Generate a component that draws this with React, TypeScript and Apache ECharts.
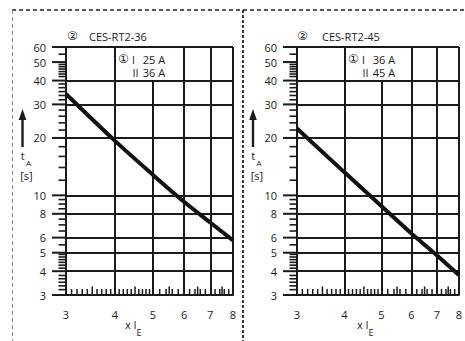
import React, { useEffect, useRef } from "react";
import * as echarts from "echarts";

// ---- data ----
const xTicks = [3, 4, 5, 6, 7, 8];
const yTicks = [3, 4, 5, 6, 8, 10, 20, 30, 40, 50, 60];
const xMinor = [3.1, 3.2, 3.3, 3.4, 3.6, 3.7, 3.8, 3.9, 4.1, 4.2, 4.3, 4.4, 4.6, 4.7, 4.8, 4.9, 5.2, 5.4, 5.6, 5.8, 6.2, 6.4, 6.6, 6.8, 7.2, 7.4, 7.6, 7.8];
const xHalf = [3.5, 4.5, 5.5, 6.5, 7.5];
const yMinor = [55, 42, 43.3, 44.6, 46, 47.3, 48.6, 31.7, 33.4, 35, 36.7, 38.4, 22, 24, 26, 28, 12, 14, 16, 18, 8.5, 9, 9.5, 6.5, 7, 7.5, 5.5, 4.15, 4.3, 4.45, 4.6, 4.75, 4.9, 3.2, 3.35, 3.5, 3.65, 3.8];
const hGrid = [4, 5, 6, 8, 10, 20, 30, 40, 60];
const vGridFull = [4, 6, 7, 8];
const vGridPartial = [5]; // stops at 40
const curveX = [3, 4, 5, 6, 7, 8];
const curveLeft = [34, 19.3, 12.8, 9.25, 7.2, 5.8];
const curveRight = [22.4, 13.2, 8.8, 6.3, 4.85, 3.82];
const titles = ["CES-RT2-36", "CES-RT2-45"];
const currentsI = ["25 A", "36 A"];
const currentsII = ["36 A", "45 A"];

const L = (v: number) => Math.log10(v);
const FONT = '"Open Sans", "DejaVu Sans", sans-serif';
const INK = "#1a1a1a";

function buildOption() {
  const panels = [
    { left: 66, width: 167 },
    { left: 297, width: 168 },
  ];
  const xAxes: any[] = [];
  const yAxes: any[] = [];
  const series: any[] = [];
  const curves = [curveLeft, curveRight];

  panels.forEach((_p, g) => {
    xAxes.push({
      type: "value",
      gridIndex: g,
      position: "bottom",
      min: L(3),
      max: L(8),
      splitLine: { show: false },
      axisLine: { show: true, lineStyle: { color: INK, width: 2 } },
      axisTick: { show: false },
      axisLabel: {
        customValues: xTicks.map(L),
        formatter: (v: number) => String(Math.round(Math.pow(10, v))),
        margin: 14,
        color: INK,
        fontSize: 11,
        fontFamily: FONT,
      },
    });
    yAxes.push({
      type: "value",
      gridIndex: g,
      position: "left",
      min: L(3),
      max: L(60),
      splitLine: { show: false },
      axisLine: { show: true, lineStyle: { color: INK, width: 2 } },
      axisTick: { show: false },
      axisLabel: {
        customValues: yTicks.map(L),
        formatter: (v: number) => String(Math.round(Math.pow(10, v))),
        margin: 20,
        color: INK,
        fontSize: 11,
        fontFamily: FONT,
      },
    });

    const lines: any[] = [];
    hGrid.forEach((v) => lines.push([{ coord: [L(3), L(v)] }, { coord: [L(8), L(v)] }]));
    vGridFull.forEach((v) => lines.push([{ coord: [L(v), L(3)] }, { coord: [L(v), L(60)] }]));
    vGridPartial.forEach((v) => lines.push([{ coord: [L(v), L(3)] }, { coord: [L(v), L(40)] }]));

    series.push({
      type: "line",
      xAxisIndex: g,
      yAxisIndex: g,
      data: [[L(3), L(3)]],
      symbol: "none",
      lineStyle: { width: 0 },
      silent: true,
      z: 1,
      markLine: {
        silent: true,
        symbol: ["none", "none"],
        label: { show: false },
        lineStyle: { color: INK, width: 2, type: "solid" },
        data: lines,
      },
    });
    series.push({
      type: "line",
      xAxisIndex: g,
      yAxisIndex: g,
      data: curveX.map((x, i) => [L(x), L(curves[g][i])]),
      symbol: "none",
      smooth: g === 0 ? 0.3 : false,
      lineStyle: { width: 4, color: "#111" },
      z: 5,
    });
  });

  return {
    animation: false,
    backgroundColor: "#fff",
    grid: panels.map((p) => ({ left: p.left, top: 47, width: p.width, height: 248 })),
    xAxis: xAxes,
    yAxis: yAxes,
    series,
  };
}

function buildGraphics(chart: any) {
  const txt = (text: string, x: number, y: number, size = 11) => ({
    type: "text",
    x,
    y,
    z: 100,
    style: { text, fill: INK, font: `${size}px ${FONT}`, verticalAlign: "middle", align: "left", lineHeight: size },
  });
  const rect = (x: number, y: number, w: number, h: number) => ({
    type: "rect",
    z: 100,
    silent: true,
    shape: { x, y, width: w, height: h },
    style: { fill: INK },
  });

  const graphics: any[] = [
    { type: "line", shape: { x1: 12, y1: 10, x2: 465, y2: 10 }, style: { stroke: "#222", lineWidth: 1.3, lineDash: [4, 3] } },
    { type: "line", shape: { x1: 12.5, y1: 10, x2: 12.5, y2: 341 }, style: { stroke: "#888", lineWidth: 1, lineDash: [4, 3] } },
    { type: "line", shape: { x1: 243, y1: 10, x2: 243, y2: 341 }, style: { stroke: "#222", lineWidth: 1.8, lineDash: [3, 2] } },
  ];

  // ticks positioned through the chart's own scales
  [0, 1].forEach((g) => {
    const px = (x: number, y: number) => chart.convertToPixel({ gridIndex: g }, [L(x), L(y)]);
    yTicks.forEach((v) => {
      const p = px(3, v);
      graphics.push(rect(p[0] - 14, p[1] - 1, 14, 2));
    });
    yMinor.forEach((v) => {
      const p = px(3, v);
      graphics.push(rect(p[0] - 7.5, p[1] - 0.8, 7.5, 1.6));
    });
    xMinor.forEach((v) => {
      const p = px(v, 3);
      graphics.push(rect(p[0] - 0.75, p[1] - 6, 1.5, 6));
    });
    xHalf.forEach((v) => {
      const p = px(v, 3);
      graphics.push(rect(p[0] - 0.75, p[1] - 8.5, 1.5, 8.5));
    });
  });

  const panelOffsets = [
    { dx: 0, titleX: 89, arrowX: 22.5, xTitleX: 125 },
    { dx: 230, titleX: 322, arrowX: 253, xTitleX: 357 },
  ];
  panelOffsets.forEach((p, g) => {
    graphics.push(txt("②", 67 + p.dx, 35, 12));
    graphics.push(txt(titles[g], p.titleX, 36, 11));
    graphics.push(txt("①", 118 + p.dx, 58, 12));
    graphics.push(txt("I", 132 + p.dx, 59, 11));
    graphics.push(txt(currentsI[g], 142.7 + p.dx, 59, 11));
    graphics.push(txt("II", 132.5 + p.dx, 72.5, 11));
    graphics.push(txt(currentsII[g], 142.7 + p.dx, 72.5, 11));
    graphics.push({ type: "line", shape: { x1: p.arrowX, y1: 147, x2: p.arrowX, y2: 118 }, style: { stroke: INK, lineWidth: 2.4 } });
    graphics.push({ type: "polygon", shape: { points: [[p.arrowX - 3.8, 120], [p.arrowX + 3.8, 120], [p.arrowX, 109]] }, style: { fill: INK } });
    graphics.push(txt("t", p.arrowX - 1.8, 155, 11));
    graphics.push(txt("A", p.arrowX + 3.5, 162, 8));
    graphics.push(txt("[s]", p.arrowX - 2.3, 175, 11));
    graphics.push(txt("x I", p.xTitleX, 324, 11));
    graphics.push(txt("E", p.xTitleX + 11.5, 332, 9));
  });
  return graphics;
}

export default function App() {
  const ref = useRef<HTMLDivElement>(null);
  useEffect(() => {
    const chart = echarts.init(ref.current!, null, { renderer: "svg" });
    chart.setOption(buildOption() as any);
    chart.setOption({ graphic: { elements: buildGraphics(chart) } } as any);
    return () => chart.dispose();
  }, []);
  return (
    <div
      ref={ref}
      style={{ position: "absolute", left: 0, top: 0, width: 465, height: 341, background: "#fff" }}
    />
  );
}
